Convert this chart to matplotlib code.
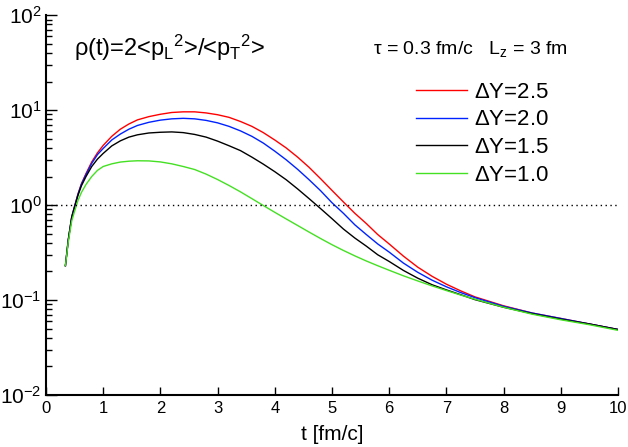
import matplotlib
matplotlib.use("Agg")
import matplotlib.pyplot as plt
from matplotlib.ticker import LogLocator, NullFormatter

plt.rcParams['font.family'] = ['Liberation Sans', 'DejaVu Sans']
plt.rcParams['mathtext.fontset'] = 'custom'
plt.rcParams['mathtext.rm'] = 'Liberation Sans'
plt.rcParams['mathtext.it'] = 'Liberation Sans'

# time grid [fm/c]
t = [0.34, 0.39, 0.45, 0.5, 0.56, 0.62, 0.7, 0.8, 0.9, 1.0, 1.15, 1.3, 1.45,
     1.6, 1.8, 2.0, 2.2, 2.4, 2.6, 2.8, 3.0, 3.2, 3.4, 3.6, 3.8, 4.0, 4.2,
     4.4, 4.6, 4.8, 5.0, 5.2, 5.4, 5.6, 5.8, 6.0, 6.25, 6.5, 6.75, 7.0, 7.25,
     7.5, 8.0, 8.5, 9.0, 9.5, 10.0]

rho_25 = [0.23, 0.43, 0.75, 0.97, 1.31, 1.68, 2.15, 2.85, 3.55, 4.25, 5.3, 6.3, 7.15,
          7.9, 8.55, 9.05, 9.45, 9.6, 9.6, 9.35, 8.95, 8.4, 7.6, 6.75, 5.8, 4.85, 4.0,
          3.2, 2.5, 1.9, 1.43, 1.08, 0.82, 0.64, 0.49, 0.39, 0.29, 0.222, 0.178, 0.147, 0.125,
          0.108, 0.087, 0.073, 0.064, 0.056, 0.049]
rho_20 = [0.23, 0.43, 0.75, 0.97, 1.3, 1.66, 2.1, 2.75, 3.4, 3.95, 4.85, 5.6, 6.3,
          6.9, 7.45, 7.85, 8.1, 8.2, 8.1, 7.8, 7.35, 6.75, 6.05, 5.3, 4.5, 3.7, 3.0,
          2.38, 1.85, 1.42, 1.06, 0.82, 0.62, 0.49, 0.39, 0.32, 0.245, 0.196, 0.162, 0.138, 0.12,
          0.106, 0.086, 0.073, 0.064, 0.056, 0.049]
rho_15 = [0.23, 0.43, 0.74, 0.95, 1.27, 1.6, 2.0, 2.55, 3.05, 3.5, 4.2, 4.75, 5.2,
          5.5, 5.75, 5.85, 5.9, 5.8, 5.55, 5.2, 4.72, 4.22, 3.75, 3.2, 2.7, 2.25, 1.85,
          1.48, 1.17, 0.92, 0.72, 0.56, 0.45, 0.37, 0.30, 0.255, 0.205, 0.17, 0.145, 0.128, 0.114,
          0.101, 0.084, 0.072, 0.063, 0.056, 0.049]
rho_10 = [0.23, 0.41, 0.68, 0.86, 1.12, 1.36, 1.65, 2.0, 2.32, 2.55, 2.72, 2.84, 2.9,
          2.93, 2.92, 2.85, 2.72, 2.55, 2.37, 2.12, 1.86, 1.61, 1.38, 1.17, 0.99, 0.84, 0.715,
          0.61, 0.52, 0.445, 0.383, 0.333, 0.292, 0.258, 0.23, 0.206, 0.18, 0.159, 0.141, 0.126, 0.113,
          0.102, 0.084, 0.071, 0.062, 0.055, 0.048]

labels = [r'$\Delta$Y=2.5', r'$\Delta$Y=2.0', r'$\Delta$Y=1.5', r'$\Delta$Y=1.0']
colors = ['#ff0000', '#0022ff', '#000000', '#44e022']

fig = plt.figure(figsize=(6.28, 4.47), dpi=100)
ax = fig.add_axes([0.0732, 0.1163, 0.9108, 0.8497])

for y, lab, c in zip([rho_25, rho_20, rho_15, rho_10], labels, colors):
    ax.plot(t, y, color=c, lw=1.0, label=lab)

ax.plot([0, 10], [1, 1], color='black', lw=1.0, ls=(0, (1, 2.5)))

ax.set_yscale('log')
ax.set_xlim(0, 10)
ax.set_ylim(1e-2, 1e2)
ax.set_xticks(range(11))
ax.set_yticks([1e-2, 1e-1, 1, 10, 100])
ax.set_yticklabels([r'10$^{-2}$', r'10$^{-1}$', r'10$^{0}$', r'10$^{1}$', r'10$^{2}$'],
                   fontsize=15)
ax.yaxis.set_minor_locator(LogLocator(base=10, subs=range(2, 10)))
ax.yaxis.set_minor_formatter(NullFormatter())
ax.tick_params(axis='x', direction='in', length=6, width=1, labelsize=12, pad=4)
ax.tick_params(axis='y', which='major', direction='in', length=8, width=1, pad=3)
ax.tick_params(axis='y', which='minor', direction='in', length=4, width=1)
ax.spines['top'].set_visible(False)
ax.spines['right'].set_visible(False)
ax.spines['left'].set_linewidth(1.5)
ax.spines['bottom'].set_linewidth(1.5)

ax.set_xlabel('t [fm/c]', fontsize=15, labelpad=7)

fig.text(0.118, 0.875, r'$\rho$(t)=2<p$_\mathregular{L}$$^\mathregular{2}$>/<p$_\mathregular{T}$$^\mathregular{2}$>',
         fontsize=17, va='baseline')
fig.text(0.594, 0.88, r'$\tau$ = 0.3 fm/c   L$_\mathregular{z}$ = 3 fm',
         fontsize=14, va='baseline')

ax.legend(loc='upper left', bbox_to_anchor=(0.632, 0.848), frameon=False,
          fontsize=16, handlelength=2.3, handletextpad=0.3, labelspacing=0.3,
          borderaxespad=0)

fig.savefig('out.png', dpi=100)
